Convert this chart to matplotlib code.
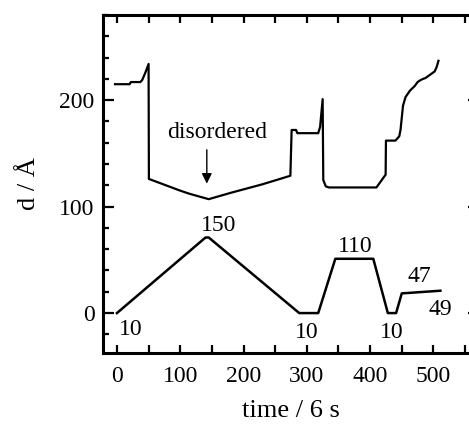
import matplotlib
matplotlib.use("Agg")
import matplotlib.pyplot as plt
from matplotlib.ticker import MultipleLocator

plt.rcParams['font.family'] = ['Liberation Serif', 'DejaVu Serif']

# upper curve: layer spacing d (Å) vs time
d_time = [-3, 20, 22, 37, 40, 45, 50, 50.5, 100, 115, 145, 180, 230, 274, 276,
          283, 285, 318, 321, 325, 326, 330, 335, 410, 422, 424.5, 425, 440,
          446, 448, 452, 456, 463, 470, 475, 480, 488, 495, 502, 505, 508]
d_vals = [215, 215, 217, 217, 219, 226, 234, 126, 115, 112, 107, 113, 121, 129, 172,
          172, 169, 169, 175, 201, 125, 119, 118, 118, 128, 130, 162, 162,
          166, 172, 195, 203, 209, 213, 217, 219, 221, 224, 227, 231, 237]

# lower curve: temperature/pressure program (scaled)
p_time = [0, 140, 145, 288, 318, 345, 405, 428, 441, 450, 511]
p_vals = [0, 71, 71, 0, 0, 51, 51, 0, 0, 18.5, 21]

# annotations
ann_text = ["10", "150", "10", "110", "10", "47", "49"]
ann_x = [22, 160, 300, 376, 434, 477, 511]
ann_y = [-15, 82, -18, 63, -18, 34, 3]

x_ticks = [0, 100, 200, 300, 400, 500]
y_ticks = [0, 100, 200]

W, H = 469, 432
fig = plt.figure(figsize=(W / 100, H / 100), dpi=100)
ax = fig.add_axes([103 / W, 1 - 353 / H, (479 - 103) / W, (353 - 15) / H])

ax.plot(d_time, d_vals, color='black', lw=1.6)
ax.plot(p_time, p_vals, color='black', lw=1.8)

for t, x, y in zip(ann_text, ann_x, ann_y):
    ax.text(x, y, t, fontsize=17, ha='center', va='center')

ax.text(158, 170, "disordered", fontsize=17, ha='center', va='center')
ax.annotate("", xy=(142, 119), xytext=(142, 156),
            arrowprops=dict(arrowstyle='-|>', color='black', lw=1.0,
                            mutation_scale=15))

ax.set_xlim(-22, 572)
ax.set_ylim(-37.5, 280)
ax.set_xticks(x_ticks)
ax.set_yticks(y_ticks)
ax.xaxis.set_minor_locator(MultipleLocator(50))
ax.yaxis.set_minor_locator(MultipleLocator(20))

ax.tick_params(which='both', direction='in', top=True, right=True, width=1.6)
ax.tick_params(axis='y', which='major', length=8, labelsize=17, pad=6)
ax.tick_params(axis='y', which='minor', length=4)
ax.tick_params(axis='x', which='major', length=6, labelsize=17, pad=9)
ax.tick_params(axis='x', which='minor', length=6)
for s in ax.spines.values():
    s.set_linewidth(2.2)

ax.set_xlabel("time / 6 s", fontsize=19, labelpad=10)
ax.set_ylabel("d / Å", fontsize=19, labelpad=14)

fig.savefig("out.png", dpi=100)
